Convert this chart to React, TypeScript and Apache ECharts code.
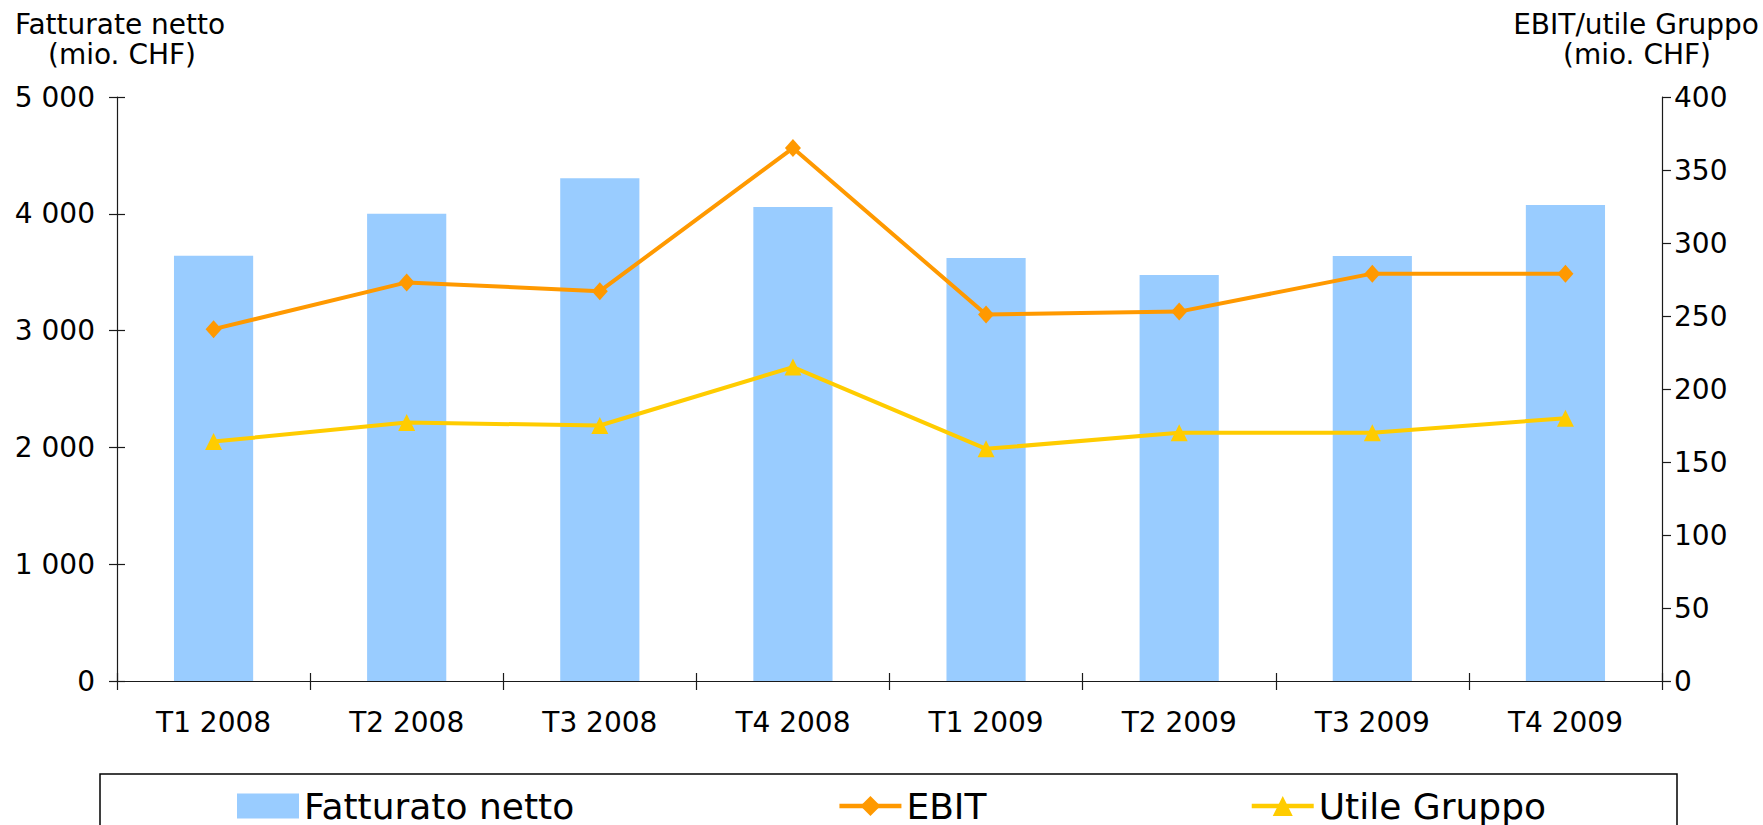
import React, { useEffect, useRef } from "react";
import * as echarts from "echarts";

const categories = ["T1 2008", "T2 2008", "T3 2008", "T4 2008", "T1 2009", "T2 2009", "T3 2009", "T4 2009"];
const fatturato = [3640, 4000, 4305, 4058, 3622, 3476, 3639, 4075];
const ebit = [241, 273, 267, 365, 251, 253, 279, 279];
const utile = [164, 177, 175, 215, 159, 170, 170, 180];

const leftTitle = ["Fatturate netto", "(mio. CHF)"];
const rightTitle = ["EBIT/utile Gruppo", "(mio. CHF)"];

const FONT = "'DejaVu Sans', Verdana, sans-serif";
const AXIS_COLOR = "#1a1a1a";

export default function App() {
  const ref = useRef<HTMLDivElement>(null);
  useEffect(() => {
    if (!ref.current) return;
    const chart = echarts.init(ref.current, undefined, { renderer: "svg" });
    const fmtThousands = (v: number) => {
      const s = String(Math.round(v));
      return s.replace(/\B(?=(\d{3})+(?!\d))/g, " ");
    };
    const labelStyle = { color: "#000", fontFamily: FONT, fontSize: 28 };
    chart.setOption({
      animation: false,
      backgroundColor: "#fff",
      textStyle: { fontFamily: FONT },
      grid: { left: 117, right: 101, top: 97, bottom: 144, containLabel: false },
      legend: {
        left: 232,
        top: 783,
        itemWidth: 62,
        itemHeight: 25,
        itemGap: 263,
        selectedMode: false,
        textStyle: { color: "#000", fontFamily: FONT, fontSize: 36 },
        data: [
          { name: "Fatturato netto", icon: "rect" },
          { name: "EBIT", lineStyle: { width: 4.5 } },
          { name: "Utile Gruppo", lineStyle: { width: 4.5 } },
        ],
      },
      xAxis: [
        {
          type: "category",
          data: categories,
          position: "bottom",
          boundaryGap: true,
          axisLine: { show: true, lineStyle: { color: AXIS_COLOR, width: 1.2 } },
          axisTick: { show: true, alignWithLabel: false, length: 9, inside: false, lineStyle: { color: AXIS_COLOR, width: 1.2 } },
          axisLabel: { ...labelStyle, margin: 27, interval: 0 },
          splitLine: { show: false },
        },
        {
          type: "category",
          data: categories,
          position: "bottom",
          boundaryGap: true,
          axisLine: { show: false },
          axisTick: { show: true, length: 8, inside: true, lineStyle: { color: AXIS_COLOR, width: 1.2 } },
          axisLabel: { show: false },
          splitLine: { show: false },
        },
      ],
      yAxis: [
        {
          type: "value",
          position: "left",
          min: 0,
          max: 5000,
          interval: 1000,
          axisLine: { show: true, lineStyle: { color: AXIS_COLOR, width: 1.2 } },
          axisTick: { show: true, length: 8, lineStyle: { color: AXIS_COLOR, width: 1.2 } },
          axisLabel: { ...labelStyle, margin: 22, formatter: fmtThousands },
          splitLine: { show: false },
        },
        {
          type: "value",
          position: "right",
          min: 0,
          max: 400,
          interval: 50,
          axisLine: { show: true, lineStyle: { color: AXIS_COLOR, width: 1.2 } },
          axisTick: { show: true, length: 9, lineStyle: { color: AXIS_COLOR, width: 1.2 } },
          axisLabel: { ...labelStyle, margin: 12 },
          splitLine: { show: false },
        },
        {
          type: "value",
          position: "left",
          min: 0,
          max: 5000,
          interval: 1000,
          axisLine: { show: false },
          axisTick: { show: true, length: 8, inside: true, lineStyle: { color: AXIS_COLOR, width: 1.2 } },
          axisLabel: { show: false },
          splitLine: { show: false },
        },
      ],
      series: [
        {
          name: "Fatturato netto",
          type: "bar",
          xAxisIndex: 0,
          yAxisIndex: 0,
          data: fatturato,
          barWidth: "41%",
          itemStyle: { color: "#99CCFF" },
        },
        {
          name: "EBIT",
          type: "line",
          xAxisIndex: 0,
          yAxisIndex: 1,
          data: ebit,
          symbol: "diamond",
          symbolSize: [16, 18],
          lineStyle: { color: "#FF9900", width: 4 },
          itemStyle: { color: "#FF9900" },
          z: 3,
        },
        {
          name: "Utile Gruppo",
          type: "line",
          xAxisIndex: 0,
          yAxisIndex: 1,
          data: utile,
          symbol: "triangle",
          symbolSize: 17,
          lineStyle: { color: "#FFCC00", width: 4 },
          itemStyle: { color: "#FFCC00" },
          z: 3,
        },
      ],
      graphic: [
        {
          type: "rect",
          shape: { x: 100, y: 774, width: 1577, height: 70 },
          style: { fill: "none", stroke: "#000", lineWidth: 1.5 },
          silent: true,
        },
        {
          type: "text",
          x: 120,
          y: 24,
          style: { text: leftTitle[0], fill: "#000", font: `28px ${FONT}`, textAlign: "center", textVerticalAlign: "middle" },
        },
        {
          type: "text",
          x: 122,
          y: 54,
          style: { text: leftTitle[1], fill: "#000", font: `28px ${FONT}`, textAlign: "center", textVerticalAlign: "middle" },
        },
        {
          type: "text",
          x: 1636,
          y: 24,
          style: { text: rightTitle[0], fill: "#000", font: `28px ${FONT}`, textAlign: "center", textVerticalAlign: "middle" },
        },
        {
          type: "text",
          x: 1637,
          y: 54,
          style: { text: rightTitle[1], fill: "#000", font: `28px ${FONT}`, textAlign: "center", textVerticalAlign: "middle" },
        },
      ],
    });
    return () => chart.dispose();
  }, []);
  return (
    <div
      ref={ref}
      style={{ position: "fixed", left: 0, top: 0, width: 1763, height: 825, background: "#fff" }}
    />
  );
}
